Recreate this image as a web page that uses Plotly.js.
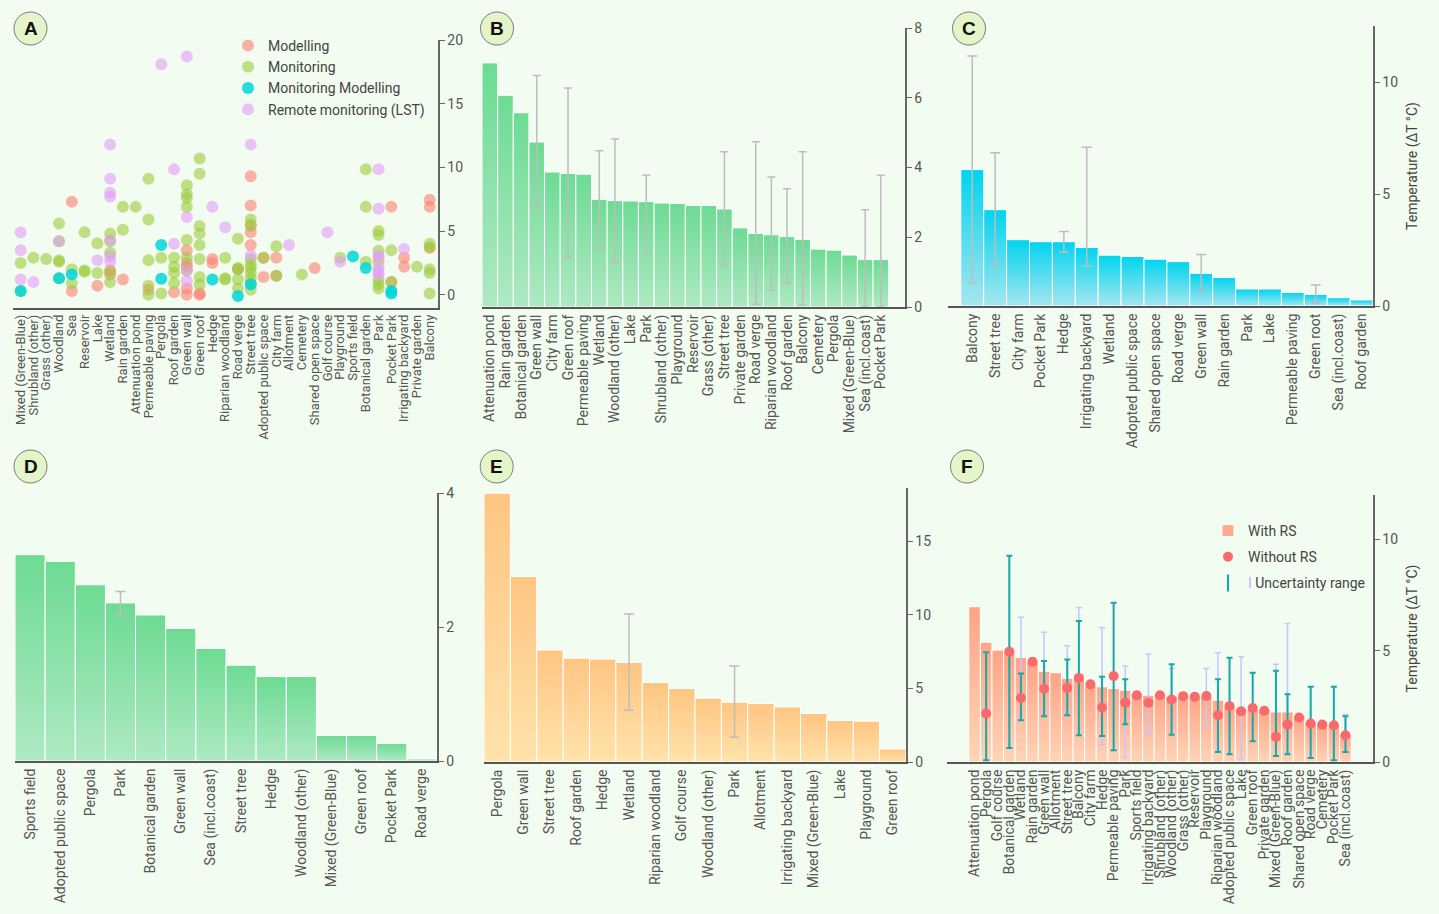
<!DOCTYPE html>
<html><head><meta charset="utf-8">
<script src="https://cdn.plot.ly/plotly-3.0.1.min.js"></script>
<style>html,body{margin:0;padding:0;background:#f3fcf0;} #chart{width:1439px;height:914px;}</style>
</head><body>
<svg width="0" height="0" style="position:absolute">
<defs>
<linearGradient id="gGreen" x1="0" y1="0" x2="0" y2="1"><stop offset="0" stop-color="#6ddb93"/><stop offset="1" stop-color="#aee9c3"/></linearGradient>
<linearGradient id="gCyan" x1="0" y1="0" x2="0" y2="1"><stop offset="0" stop-color="#00d4ef"/><stop offset="1" stop-color="#a6e6ef"/></linearGradient>
<linearGradient id="gOrange" x1="0" y1="0" x2="0" y2="1"><stop offset="0" stop-color="#ffc582"/><stop offset="1" stop-color="#ffe3aa"/></linearGradient>
<linearGradient id="gSalmon" x1="0" y1="0" x2="0" y2="1"><stop offset="0" stop-color="#ffa487"/><stop offset="1" stop-color="#ffd4b6"/></linearGradient>
</defs></svg>
<div id="chart"></div>
<script>
// ---------------- Panel A (scatter) ----------------
const aCats = ["Mixed (Green-Blue)","Shrubland (other)","Grass (other)","Woodland","Sea","Reservoir","Lake","Wetland","Rain garden","Attenuation pond","Permeable paving","Pergola","Roof garden","Green wall","Green roof","Hedge","Riparian woodland","Road verge","Street tree","Adopted public space","City farm","Allotment","Cemetery","Shared open space","Golf course","Playground","Sports field","Botanical garden","Park","Pocket Park","Irrigating backyard","Private garden","Balcony"];

const aModellingCat = ["Sea","Sea","Lake","Wetland","Wetland","Rain garden","Permeable paving","Roof garden","Green wall","Green wall","Green wall","Green wall","Green wall","Green roof","Green roof","Hedge","Hedge","Road verge","Street tree","Street tree","Street tree","Street tree","Street tree","Adopted public space","Adopted public space","City farm","City farm","Shared open space","Pocket Park","Pocket Park","Irrigating backyard","Irrigating backyard","Balcony","Balcony","Balcony"];
const aModellingVal = [7.3,0.3,0.7,1.6,1.9,1.2,0.4,0.2,3.5,2.5,2.2,0.5,0.0,0.0,0.1,2.8,2.5,2.0,9.3,7.0,5.5,4.9,3.9,2.9,1.4,2.9,1.5,2.1,6.9,1.0,2.9,2.2,7.45,6.9,3.7];

const aMonitoringCat = ["Mixed (Green-Blue)","Mixed (Green-Blue)","Shrubland (other)","Grass (other)","Woodland","Woodland","Woodland","Woodland","Woodland","Sea","Sea","Reservoir","Reservoir","Reservoir","Lake","Lake","Wetland","Wetland","Wetland","Wetland","Wetland","Rain garden","Rain garden","Attenuation pond","Permeable paving","Permeable paving","Permeable paving","Permeable paving","Permeable paving","Pergola","Pergola","Roof garden","Roof garden","Roof garden","Roof garden","Green wall","Green wall","Green wall","Green wall","Green wall","Green wall","Green wall","Green roof","Green roof","Green roof","Green roof","Green roof","Green roof","Green roof","Green roof","Riparian woodland","Riparian woodland","Riparian woodland","Road verge","Road verge","Road verge","Road verge","Road verge","Street tree","Street tree","Street tree","Street tree","Street tree","Street tree","Street tree","Street tree","Street tree","Adopted public space","City farm","City farm","Cemetery","Playground","Botanical garden","Botanical garden","Botanical garden","Park","Park","Park","Park","Park","Park","Park","Pocket Park","Pocket Park","Private garden","Balcony","Balcony","Balcony","Balcony","Balcony"];
const aMonitoringVal = [2.5,0.3,2.9,2.8,5.6,4.2,2.7,2.6,1.3,2.0,0.9,4.9,1.8,1.9,4.05,1.7,4.8,4.2,3.3,1.8,1.0,6.9,5.1,6.9,9.1,5.9,2.7,0.7,0.0,2.9,0.1,2.9,2.2,1.7,0.9,8.6,7.9,7.6,6.9,4.3,2.9,1.9,10.7,9.5,5.4,4.8,3.9,2.8,1.4,0.8,2.9,1.2,1.3,4.4,2.1,2.0,1.2,0.5,5.9,5.4,2.8,2.4,2.1,1.7,1.3,0.9,0.4,2.9,3.8,1.5,1.6,2.9,9.85,6.9,2.6,5.0,4.7,3.45,2.6,1.2,0.8,0.5,3.5,1.0,2.2,4.0,3.7,2.0,1.7,0.1];

const aMonModCat = ["Mixed (Green-Blue)","Woodland","Sea","Pergola","Pergola","Hedge","Road verge","Street tree","Sports field","Botanical garden","Pocket Park","Pocket Park"];
const aMonModVal = [0.3,1.3,1.6,3.9,1.25,1.2,-0.1,0.8,3.0,2.1,0.3,0.1];

const aRemoteCat = ["Mixed (Green-Blue)","Mixed (Green-Blue)","Mixed (Green-Blue)","Shrubland (other)","Woodland","Lake","Wetland","Wetland","Wetland","Wetland","Wetland","Wetland","Wetland","Pergola","Roof garden","Roof garden","Green wall","Green wall","Green wall","Green wall","Hedge","Riparian woodland","Street tree","Street tree","Allotment","Golf course","Playground","Park","Park","Park","Park","Park","Park","Park","Irrigating backyard"];
const aRemoteVal = [4.9,3.5,1.2,1.0,4.2,2.7,11.8,9.1,8.0,7.7,4.3,3.0,2.6,18.1,9.85,4.0,18.7,6.1,1.9,1.1,6.9,5.3,11.8,3.1,3.9,4.9,2.6,9.85,6.75,3.1,2.9,2.1,1.8,1.6,3.6];

// ---------------- Panel B ----------------
const bCats = ["Attenuation pond","Rain garden","Botanical garden","Green wall","City farm","Green roof","Permeable paving","Wetland","Woodland (other)","Lake","Park","Shrubland (other)","Playground","Reservoir","Grass (other)","Street tree","Private garden","Road verge","Riparian woodland","Roof garden","Balcony","Cemetery","Pergola","Mixed (Green-Blue)","Sea (incl.coast)","Pocket Park"];
const bVals = [7.0,6.07,5.57,4.73,3.87,3.83,3.81,3.09,3.05,3.04,3.02,2.98,2.97,2.91,2.91,2.81,2.27,2.11,2.07,2.02,1.94,1.66,1.63,1.49,1.36,1.36];
const bHigh = [null,null,null,6.64,null,6.28,null,4.48,4.82,null,3.78,null,null,null,null,4.45,null,4.74,3.73,3.39,4.45,null,null,null,2.79,3.78];
const bLow  = [null,null,null,2.84,null,1.42,null,1.68,1.26,null,1.51,null,null,null,null,1.18,null,0.08,0.47,0.68,0.06,null,null,null,0.0,0.0];

// ---------------- Panel C ----------------
const cCats = ["Balcony","Street tree","City farm","Pocket Park","Hedge","Irrigating backyard","Wetland","Adopted public space","Shared open space","Road verge","Green wall","Rain garden","Park","Lake","Permeable paving","Green root","Sea (incl.coast)","Roof garden"];
const cVals = [6.09,4.3,2.96,2.87,2.87,2.61,2.27,2.21,2.09,1.98,1.46,1.27,0.76,0.76,0.6,0.52,0.37,0.27];
const cHigh = [11.16,6.84,null,null,3.33,7.09,null,null,null,null,2.3,null,null,null,null,0.94,null,null];
const cLow  = [1.04,1.79,null,null,2.4,1.79,null,null,null,null,0.64,null,null,null,null,0.12,null,null];

// ---------------- Panel D ----------------
const dCats = ["Sports field","Adopted public space","Pergola","Park","Botanical garden","Green wall","Sea (incl.coast)","Street tree","Hedge","Woodland (other)","Mixed (Green-Blue)","Green roof","Pocket Park","Road verge"];
const dVals = [3.08,2.98,2.63,2.36,2.18,1.98,1.68,1.43,1.26,1.26,0.38,0.38,0.26,0.03];
const dHigh = [null,null,null,2.53,null,null,null,null,null,null,null,null,null,null];
const dLow  = [null,null,null,2.19,null,null,null,null,null,null,null,null,null,null];

// ---------------- Panel E ----------------
const eCats = ["Pergola","Green wall","Street tree","Roof garden","Hedge","Wetland","Riparian woodland","Golf course","Woodland (other)","Park","Allotment","Irrigating backyard","Mixed (Green-Blue)","Lake","Playground","Green roof"];
const eVals = [18.25,12.59,7.6,7.05,6.99,6.76,5.4,4.99,4.33,4.06,3.97,3.74,3.29,2.82,2.77,0.88];
const eHigh = [null,null,null,null,null,10.05,null,null,null,6.51,null,null,null,null,null,null];
const eLow  = [null,null,null,null,null,3.52,null,null,null,1.68,null,null,null,null,null,null];

// ---------------- Panel F ----------------
const fCats = ["Attenuation pond","Pergola","Golf course","Botanical garden","Wetland","Rain garden","Green wall","Allotment","Street tree","Balcony","City farm","Hedge","Permeable paving","Park","Sports field","Irrigating backyard","Shrubland (other)","Woodland (other)","Grass (other)","Reservoir","Playground","Riparian woodland","Adopted public space","Lake","Green roof","Private garden","Mixed (Green-Blue)","Roof garden","Shared open space","Road verge","Cemetery","Pocket Park","Sea (incl.coast)"];
const fWithRS = [6.98,5.38,5.03,4.91,4.70,4.50,4.08,4.01,3.76,3.76,3.45,3.38,3.30,3.23,3.08,3.00,3.00,2.96,2.95,2.93,2.93,2.78,2.48,2.40,2.36,2.36,2.25,2.25,2.10,1.76,1.73,1.65,1.25];
const fWithoutRS = [null,2.18,null,4.96,2.88,4.5,3.29,null,3.33,3.78,3.49,2.45,3.86,2.67,3.0,2.66,3.0,2.81,2.96,2.93,2.97,2.1,2.51,2.28,2.43,2.3,1.13,1.68,2.0,1.73,1.68,1.65,1.2];
const fTealHigh = [null,4.93,null,9.27,3.98,null,4.54,null,4.61,6.34,null,3.83,7.16,3.72,null,null,null,4.39,null,null,null,3.72,4.68,null,4.01,null,4.1,3.05,null,3.38,null,3.38,2.06];
const fTealLow  = [null,0.08,null,0.63,1.88,null,2.06,null,2.1,1.2,null,1.17,0.53,1.7,null,null,null,1.23,null,null,null,0.45,0.35,null,0.93,null,0.27,0.35,null,0.18,null,0.08,0.45];
const fLavHigh = [null,null,null,null,6.5,null,5.83,null,5.23,6.94,null,6.05,null,4.32,null,4.85,null,4.2,null,null,4.2,4.91,null,4.73,null,null,4.39,6.23,null,null,null,null,2.14];
const fLavLow  = [null,null,null,null,2.0,null,2.33,null,2.33,1.5,null,0.78,null,0.2,null,1.2,null,1.6,null,null,1.62,0.5,null,0.15,null,null,0.3,0.4,null,null,null,null,0.45];

// ---------------- helpers ----------------
const W = 1439, H = 914;
const FONT = 'Roboto, "Noto Sans", sans-serif';
const dx = (a, b) => [a / W, b / W];
const dy = (t, b) => [1 - b / H, 1 - t / H];

function errTrace(cats, vals, hi, lo, xa, ya, color, thick, capw) {
  const x = [], y = [], p = [], m = [];
  cats.forEach((c, i) => {
    if (hi[i] !== null && vals[i] !== null) {
      x.push(c); y.push(vals[i]); p.push(hi[i] - vals[i]); m.push(vals[i] - lo[i]);
    }
  });
  return {type: 'scatter', mode: 'markers', x, y, xaxis: xa, yaxis: ya,
    marker: {size: 1, opacity: 0}, showlegend: false, hoverinfo: 'skip',
    error_y: {type: 'data', symmetric: false, array: p, arrayminus: m, color, thickness: thick, width: capw}};
}
function errTraceRange(cats, anchor, hi, lo, xa, ya, color, thick, capw) {
  const x = [], y = [], p = [], m = [];
  cats.forEach((c, i) => {
    if (hi[i] !== null) {
      const mid = anchor[i] !== null ? anchor[i] : (hi[i] + lo[i]) / 2;
      x.push(c); y.push(mid); p.push(hi[i] - mid); m.push(mid - lo[i]);
    }
  });
  return {type: 'scatter', mode: 'markers', x, y, xaxis: xa, yaxis: ya,
    marker: {size: 1, opacity: 0}, showlegend: false, hoverinfo: 'skip',
    error_y: {type: 'data', symmetric: false, array: p, arrayminus: m, color, thickness: thick, width: capw}};
}
function barTrace(cats, vals, xa, ya, color) {
  return {type: 'bar', x: cats, y: vals, xaxis: xa, yaxis: ya, marker: {color, line: {color: '#ffffff', width: 1}},
    showlegend: false, hoverinfo: 'skip'};
}
function dots(name, cats, vals, color, op) {
  return {type: 'scatter', mode: 'markers', name, x: cats, y: vals, xaxis: 'x', yaxis: 'y',
    marker: {size: 12, color, opacity: op}, legend: 'legend', hoverinfo: 'skip'};
}

const grey = '#bdbdbd';
const traces = [
  dots('Modelling', aModellingCat, aModellingVal, '#ff7f73', 0.6),
  dots('Monitoring', aMonitoringCat, aMonitoringVal, '#9ccb3c', 0.6),
  dots('Monitoring Modelling', aMonModCat, aMonModVal, '#00d6d9', 0.85),
  dots('Remote monitoring (LST)', aRemoteCat, aRemoteVal, '#e29cf7', 0.6),

  barTrace(bCats, bVals, 'x2', 'y2', '#86e0a6'),
  errTrace(bCats, bVals, bHigh, bLow, 'x2', 'y2', grey, 1.5, 4),

  barTrace(cCats, cVals, 'x3', 'y3', '#3ad6ef'),
  errTrace(cCats, cVals, cHigh, cLow, 'x3', 'y3', grey, 1.5, 5),

  barTrace(dCats, dVals, 'x4', 'y4', '#86e0a6'),
  errTrace(dCats, dVals, dHigh, dLow, 'x4', 'y4', grey, 1.5, 5),

  barTrace(eCats, eVals, 'x5', 'y5', '#ffd090'),
  errTrace(eCats, eVals, eHigh, eLow, 'x5', 'y5', grey, 1.5, 5),

  Object.assign(barTrace(fCats, fWithRS, 'x6', 'y6', '#ffab8d'), {name: 'With RS', showlegend: true, legend: 'legend2', legendgroup: 'g1'}),
  errTraceRange(fCats, fWithoutRS, fLavHigh, fLavLow, 'x6', 'y6', '#c6c6ff', 1.5, 3),
  errTraceRange(fCats, fWithoutRS, fTealHigh, fTealLow, 'x6', 'y6', '#15a9a9', 2, 3),
  {type: 'scatter', mode: 'markers', name: 'Without RS', x: fCats, y: fWithoutRS, xaxis: 'x6', yaxis: 'y6',
   marker: {size: 10, color: '#f86a6c'}, legend: 'legend2', legendgroup: 'g2', hoverinfo: 'skip'},
  {type: 'scatter', mode: 'markers', name: '<span style="color:#b8b8ff">I</span> Uncertainty range', x: [null], y: [null], xaxis: 'x6', yaxis: 'y6',
   marker: {size: 12, symbol: 'line-ns-open', color: '#15a9a9', line: {color: '#15a9a9', width: 2}}, legend: 'legend2', legendgroup: 'g3', hoverinfo: 'skip'}
];

function xax(dom, yId, cats, extra) {
  return Object.assign({domain: dom, anchor: yId, type: 'category', categoryorder: 'array', categoryarray: cats,
    showline: true, linecolor: '#555', linewidth: 2,
    ticks: '', showgrid: false, zeroline: false, tickangle: -90, tickmode: 'array', tickvals: cats, ticktext: cats,
    tickfont: {family: FONT, size: 14, color: '#555'}, fixedrange: true}, extra || {});
}
function yax(dom, xId, range, tickvals, extra) {
  return Object.assign({domain: dom, anchor: xId, side: 'right', range, showline: true, linecolor: '#666', linewidth: 1.5,
    ticks: 'outside', ticklen: 5, tickcolor: '#666', tickvals, showgrid: false, zeroline: false,
    tickfont: {family: FONT, size: 14, color: '#555'}, fixedrange: true}, extra || {});
}
const tempTitle = {text: 'Temperature (ΔT °C)', font: {family: FONT, size: 14, color: '#444'}, standoff: 10};

const letters = [['A', 30.5, 28.5], ['B', 497, 28.5], ['C', 969, 28.5], ['D', 30.5, 466.5], ['E', 496.7, 466.5], ['F', 967, 466.5]];
const R = 16.5;
const shapes = letters.map(l => ({type: 'circle', xref: 'paper', yref: 'paper',
  x0: (l[1] - R) / W, x1: (l[1] + R) / W, y0: 1 - (l[2] + R) / H, y1: 1 - (l[2] - R) / H,
  fillcolor: '#e4f6c9', line: {color: '#7a7a7a', width: 1}}));
const annotations = letters.map(l => ({text: '<b>' + l[0] + '</b>', xref: 'paper', yref: 'paper',
  x: l[1] / W, y: 1 - l[2] / H, xanchor: 'center', yanchor: 'middle', showarrow: false,
  font: {family: '"Liberation Sans", Arial, sans-serif', size: 19, color: '#111'}}));

const layout = {
  width: W, height: H, margin: {l: 0, r: 0, t: 0, b: 0},
  paper_bgcolor: '#f3fcf0', plot_bgcolor: 'rgba(0,0,0,0)',
  font: {family: FONT, color: '#555'}, hovermode: false, bargap: 0,
  xaxis:  xax(dx(13, 438), 'y', aCats, {range: [-0.6, 32.65], tickfont: {family: FONT, size: 13, color: '#555'}}),
  yaxis:  yax(dy(40, 307.5), 'x', [-1, 20], [0, 5, 10, 15, 20]),
  xaxis2: xax(dx(482, 905), 'y2', bCats),
  yaxis2: yax(dy(28, 307), 'x2', [0, 8], [0, 2, 4, 6, 8]),
  xaxis3: xax(dx(948, 1373), 'y3', cCats),
  yaxis3: yax(dy(26, 306), 'x3', [0, 12.5], [0, 5, 10], {title: tempTitle}),
  xaxis4: xax(dx(15, 437), 'y4', dCats),
  yaxis4: yax(dy(493, 761), 'x4', [0, 4], [0, 2, 4]),
  xaxis5: xax(dx(484, 906), 'y5', eCats),
  yaxis5: yax(dy(488, 762), 'x5', [0, 18.6], [0, 5, 10, 15]),
  xaxis6: xax(dx(947, 1373), 'y6', fCats),
  yaxis6: yax(dy(495, 762), 'x6', [0, 12], [0, 5, 10], {title: tempTitle}),
  legend: {x: 228 / W, y: 1 - 30 / H, xanchor: 'left', yanchor: 'top', bgcolor: 'rgba(0,0,0,0)',
    font: {family: FONT, size: 14, color: '#444'}, itemclick: false, itemdoubleclick: false},
  legend2: {x: 1208 / W, y: 1 - 515 / H, xanchor: 'left', yanchor: 'top', bgcolor: 'rgba(0,0,0,0)',
    font: {family: FONT, size: 14, color: '#444'}, tracegroupgap: 5, itemclick: false, itemdoubleclick: false},
  shapes, annotations
};

Plotly.newPlot('chart', traces, layout, {staticPlot: true, displayModeBar: false}).then(() => {
  const map = {x2y2: 'gGreen', x3y3: 'gCyan', x4y4: 'gGreen', x5y5: 'gOrange', x6y6: 'gSalmon'};
  Object.keys(map).forEach(k => {
    document.querySelectorAll('.subplot.' + k + ' .barlayer path').forEach(p => { p.style.fill = 'url(#' + map[k] + ')'; });
  });
});
</script>
</body></html>
